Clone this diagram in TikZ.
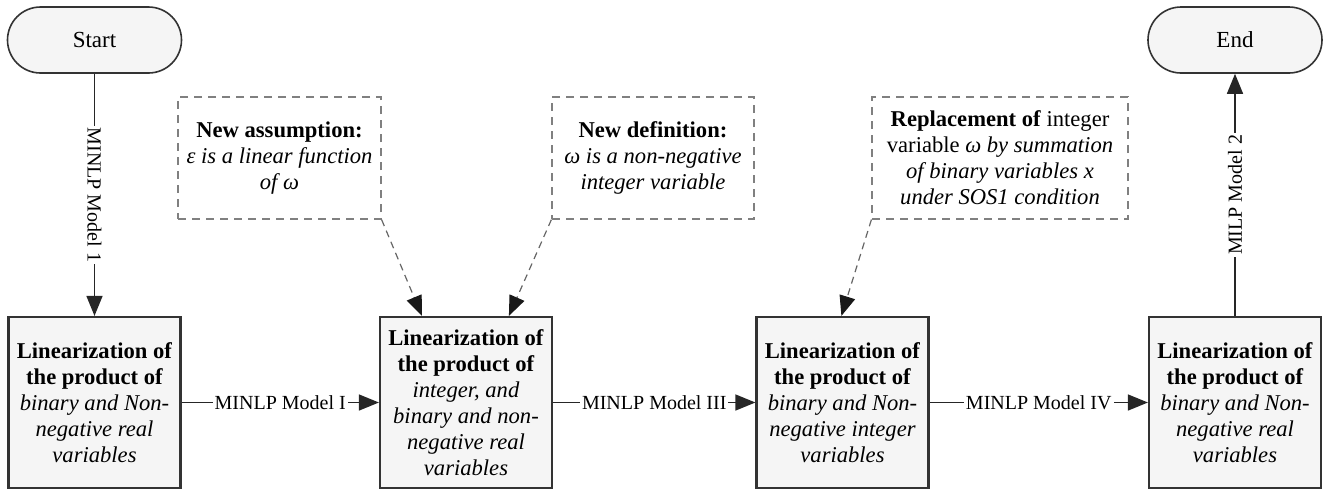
\documentclass[tikz,border=0pt]{standalone}
\usepackage{fontspec}
\setmainfont{Liberation Serif}
\usetikzlibrary{arrows.meta,calc}
\begin{document}
\begin{tikzpicture}[x=0.5pt,y=-0.5pt,
  font=\fontsize{11.3}{13}\selectfont,
  procbox/.style={draw=black!80, line width=1.1pt, fill=black!4, minimum width=86pt, minimum height=85.5pt, align=center, inner sep=0pt},
  termbox/.style={draw=black!80, line width=0.8pt, fill=black!4, rounded corners=16.5pt, minimum width=87pt, minimum height=33pt, inner sep=0pt, font=\fontsize{11.5}{13}\selectfont},
  notebox/.style={draw=black!50, dash pattern=on 4pt off 3pt, line width=0.6pt, minimum height=61pt, align=center, inner sep=0pt},
  flow/.style={draw=black!85, line width=0.75pt, -{Triangle[length=10pt,width=8pt]}},
  dflow/.style={draw=black!60, line width=0.6pt, dash pattern=on 3.5pt off 2.5pt, -{Triangle[length=10pt,width=8pt,color=black!90]}},
  lbl/.style={fill=white, inner sep=1pt, font=\fontsize{10}{12}\selectfont}
]
\useasboundingbox (0,0) rectangle (1324,489);

\node[termbox] (start) at (94.5,40) {Start};
\node[termbox] (end) at (1235,40) {End};

\node[procbox] (b1) at (94.5,402.5) {\textbf{Linearization of}\\\textbf{the product of}\\\textit{binary and Non-}\\\textit{negative real}\\\textit{variables}};
\node[procbox] (b2) at (466,402.5) {\textbf{Linearization of}\\\textbf{the product of}\\\textit{integer, and}\\\textit{binary and non-}\\\textit{negative real}\\\textit{variables}};
\node[procbox] (b3) at (842.5,402.5) {\textbf{Linearization of}\\\textbf{the product of}\\\textit{binary and Non-}\\\textit{negative integer}\\\textit{variables}};
\node[procbox] (b4) at (1235,402.5) {\textbf{Linearization of}\\\textbf{the product of}\\\textit{binary and Non-}\\\textit{negative real}\\\textit{variables}};

\node[notebox, minimum width=101.5pt] (dA) at (279.5,158) {\textbf{New assumption:}\\\textit{ε is a linear function}\\\textit{of ω}};
\node[notebox, minimum width=101pt] (dB) at (653,158) {\textbf{New definition:}\\\textit{ω is a non-negative}\\\textit{integer variable}};
\node[notebox, minimum width=128pt] (dC) at (1000,158) {\textbf{Replacement of} integer\\variable \textit{ω by summation}\\\textit{of binary variables x}\\\textit{under SOS1 condition}};

\draw[flow] (start) -- node[lbl, rotate=-90]{MINLP Model 1} (b1);
\draw[flow] (b1) -- node[lbl]{MINLP Model I} (b2);
\draw[flow] (b2) -- node[lbl]{MINLP Model III} (b3);
\draw[flow] (b3) -- node[lbl]{MINLP Model IV} (b4);
\draw[flow] (b4) -- node[lbl, rotate=90]{MILP Model 2} (end);

\draw[dflow] (dA.south east) -- ($(b2.north west)+(43,0)$);
\draw[dflow] (dB.south west) -- ($(b2.north west)+(130,0)$);
\draw[dflow] (dC.south west) -- ($(b3.north west)+(86,0)$);
\end{tikzpicture}
\end{document}
